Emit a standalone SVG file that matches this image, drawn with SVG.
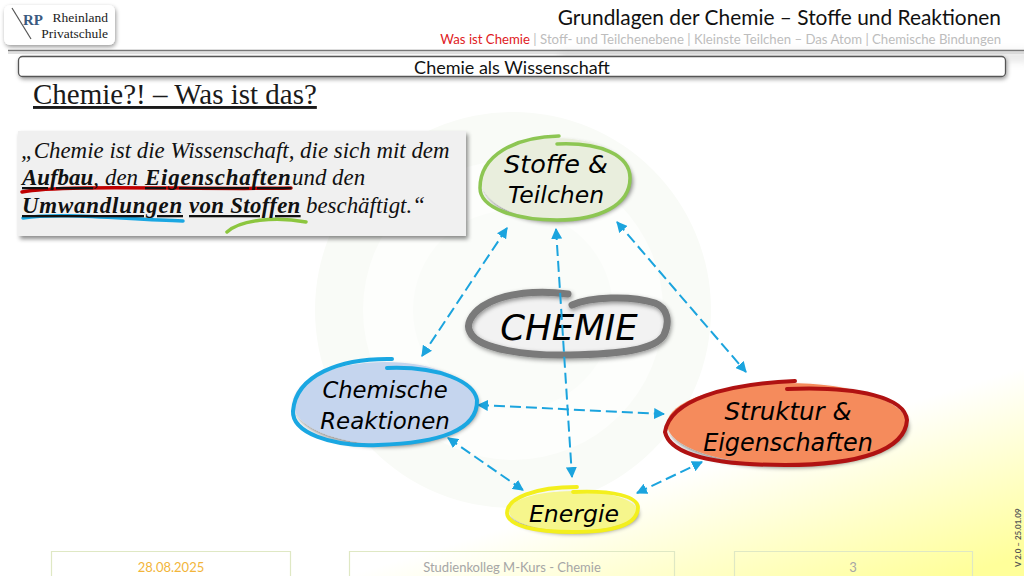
<svg xmlns="http://www.w3.org/2000/svg" width="1024" height="576" viewBox="0 0 1024 576">
<style>
.cal{font-family:"Lato","Open Sans","Liberation Sans",sans-serif}
.cam{font-family:"Liberation Serif","DejaVu Serif",serif}
.hand{font-family:"DejaVu Sans","Noto Sans",sans-serif;font-style:oblique;fill:#000;text-anchor:middle}
.conn{fill:none;stroke:#1ba4de;stroke-width:2;stroke-dasharray:11 5;marker-start:url(#arr);marker-end:url(#arr)}
.foot{fill:none;stroke:#dfe8c4;stroke-width:1.2}
.ft{font-size:13px;text-anchor:middle;fill:#a6a6a6}
.ul{fill:none;stroke-linecap:round;stroke-width:3.5}
.blob{stroke-linecap:round;stroke-linejoin:round;fill:none}
.b{font-weight:bold;text-decoration:underline}
</style>
<defs>
<linearGradient id="bg" gradientUnits="userSpaceOnUse" x1="188" y1="625" x2="241" y2="797">
<stop offset="0" stop-color="#ffffff"/><stop offset="1" stop-color="#ffff9a"/>
</linearGradient>
<filter id="sh" x="-10%" y="-20%" width="125%" height="150%"><feDropShadow dx="2" dy="3" stdDeviation="2.2" flood-color="#000" flood-opacity=".45"/></filter>
<filter id="shs" x="-10%" y="-30%" width="120%" height="170%"><feDropShadow dx="1" dy="2" stdDeviation="2" flood-color="#000" flood-opacity=".4"/></filter>
<filter id="blur" x="-10%" y="-100%" width="120%" height="300%"><feGaussianBlur stdDeviation="4"/></filter>
<marker id="arr" viewBox="0 0 10 10" refX="9" refY="5" markerWidth="5.5" markerHeight="5.5" orient="auto-start-reverse"><path d="M0 0L10 5L0 10Z" fill="#1ba4de"/></marker>
</defs>
<rect width="1024" height="576" fill="url(#bg)"/>
<g id="watermark">
<circle cx="513" cy="310" r="198" fill="#f9fbf7"/>
<circle cx="513" cy="310" r="150" fill="#fdfefc"/>
<circle cx="513" cy="310" r="100" fill="#fafcf9"/>
</g>
<g id="header">
<rect x="560" y="52" width="470" height="9" fill="#999" opacity=".28" filter="url(#blur)"/>
<path d="M8 50.500H1024" stroke="#777" stroke-width="1.300" fill="none"/>
<rect x="8" y="51" width="1016" height="3" fill="#ccc" opacity=".6"/>
<text class="cal" x="1001" y="25" font-size="20.900" text-anchor="end" fill="#111">Grundlagen der Chemie – Stoffe und Reaktionen</text>
<text class="cal" x="1001" y="44" font-size="13.200" text-anchor="end" fill="#bdbdbd"><tspan fill="#e01b24">Was ist Chemie</tspan> | Stoff- und Teilchenebene | Kleinste Teilchen – Das Atom | Chemische Bindungen</text>
</g>
<g id="logo">
<rect x="4" y="5" width="111" height="40" rx="6" fill="#fff" filter="url(#shs)"/>
<path d="M12 8L31 39" stroke="#555" stroke-width="1.200" fill="none"/>
<text class="cam" x="23" y="25" font-size="15" font-weight="bold" fill="#3b5a80">RP</text>
<text class="cam" x="108" y="22" font-size="13.500" text-anchor="end" fill="#222">Rheinland</text>
<text class="cam" x="108" y="38" font-size="13.500" text-anchor="end" fill="#222">Privatschule</text>
</g>
<g id="title-bar">
<rect x="18.500" y="56.500" width="987" height="20" rx="4" fill="#fff" stroke="#555" stroke-width="1.300" filter="url(#shs)"/>
<text class="cal" x="512" y="74" font-size="18" text-anchor="middle" fill="#111">Chemie als Wissenschaft</text>
</g>
<text id="heading" class="cam" x="33" y="104" font-size="29" fill="#1a1a1a" text-decoration="underline">Chemie?! – Was ist das?</text>
<g id="quote">
<rect x="18" y="131" width="448" height="105" fill="#f0f0f0" filter="url(#sh)"/>
<path class="ul" stroke="#c00000" d="M22 192C60 184 200 190 291 188"/>
<path class="ul" stroke="#1aa7e2" d="M23 218C60 212 120 219 183 221"/>
<path class="ul" stroke="#8cc63f" d="M227 232C240 220 275 216 306 222"/>
<g class="cam" font-size="22.900" font-style="italic" fill="#111">
<text x="21" y="158">„Chemie ist die Wissenschaft, die sich mit dem</text>
<text x="22" y="185"><tspan class="b">Aufbau</tspan>, <tspan x="105">den</tspan> <tspan class="b" x="145" letter-spacing=".8">Eigenschaften</tspan> <tspan x="292">und den</tspan></text>
<text x="22" y="213"><tspan class="b" letter-spacing=".8">Umwandlungen</tspan> <tspan class="b" x="189" letter-spacing=".3">von Stoffen</tspan> <tspan x="306">beschäftigt.“</tspan></text>
</g>
</g>
<g id="node-chemie">
<path d="M568 296C530 292 495 298 483 308C470 318 468 326 472 332C482 350 530 354 570 353C620 352 652 348 662 334C668 322 664 310 653 305C630 297 590 299 570 306Z" fill="#f2f2f2"/>
<path class="blob" stroke="#7a7a7a" stroke-width="7" d="M568 294C540 290 505 292 483 306C470 315 466 325 470 332C478 350 530 356 570 355C620 354 655 350 664 335C670 322 668 308 655 303C630 295 590 297 572 305" filter="url(#shs)"/>
<text class="hand" x="569" y="340" font-size="35.500">CHEMIE</text>
</g>
<g id="connectors">
<path class="conn" d="M507 228L422 356"/>
<path class="conn" d="M556 229L572 477"/>
<path class="conn" d="M617 222L746 372"/>
<path class="conn" d="M478 405L664 414"/>
<path class="conn" d="M448 438L523 490"/>
<path class="conn" d="M637 493L702 462"/>
</g>
<g id="node-stoffe">
<ellipse cx="556" cy="179" rx="75" ry="41" fill="#e9eedd" filter="url(#sh)"/>
<path class="blob" stroke="#8dc653" stroke-width="3.500" d="M559 136C515 137 480 155 480 188C480 208 515 220 557 220C600 220 630 205 630 178C630 155 600 142 557 144"/>
<text class="hand" x="556" y="173" font-size="25.500">Stoffe &amp;</text>
<text class="hand" x="556" y="203" font-size="23.500">Teilchen</text>
</g>
<g id="node-reaktionen">
<ellipse cx="385" cy="403" rx="92" ry="41" fill="#c5d5ee" filter="url(#sh)"/>
<path class="blob" stroke="#1aa7e2" stroke-width="4" d="M392 359C340 358 296 375 293 411C292 432 330 447 378 445C440 443 478 430 477 400C474 382 440 366 387 368"/>
<text class="hand" x="385" y="398" font-size="22.700">Chemische</text>
<text class="hand" x="385" y="429" font-size="22.900">Reaktionen</text>
</g>
<g id="node-struktur">
<ellipse cx="787" cy="424" rx="120" ry="41" fill="#f58b5c" filter="url(#sh)"/>
<path class="blob" stroke="#b01212" stroke-width="4" d="M795 381C725 384 670 400 665 432C670 455 715 465 785 465C860 465 905 450 907 420C905 398 860 386 787 389"/>
<text class="hand" x="788" y="420" font-size="24.500">Struktur &amp;</text>
<text class="hand" x="788" y="451" font-size="23.900">Eigenschaften</text>
</g>
<g id="node-energie">
<ellipse cx="573" cy="511" rx="64" ry="20" fill="#f6f68c" filter="url(#sh)"/>
<path class="blob" stroke="#f3ef1d" stroke-width="3.800" d="M577 487C535 487 507 498 507 513C508 526 535 532 573 532C615 532 638 525 638 507C637 497 615 490 573 492"/>
<text class="hand" x="574" y="522" font-size="23.600">Energie</text>
</g>
<g id="footer">
<path class="foot" d="M51.500 576V551.500H290.500V576M349.500 576V551.500H674.500V576M734.500 576V551.500H972.500V576"/>
<text class="cal ft" x="171" y="572" style="fill:#f2b53a">28.08.2025</text>
<text class="cal ft" x="512" y="572">Studienkolleg M-Kurs - Chemie</text>
<text class="cal ft" x="853" y="572">3</text>
<text class="cal" transform="translate(1021,567) rotate(-90)" font-size="8" font-weight="bold" fill="#555">V 2.0 – 25.01.09</text>
</g>
</svg>
